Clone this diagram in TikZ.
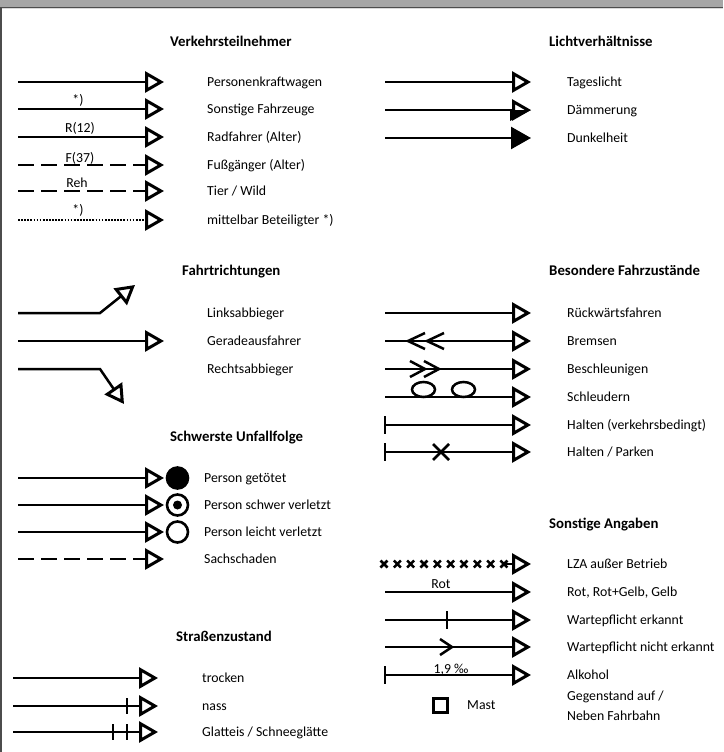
\documentclass[tikz,border=0pt]{standalone}
\usepackage{fontspec}
\setmainfont{Carlito}
\usetikzlibrary{arrows.meta}

\definecolor{kopfband}{HTML}{A6A6A6}
\definecolor{kopflinie}{HTML}{4D4D4D}

\begin{document}
\begin{tikzpicture}[x=1pt, y=-1pt,
  every node/.style={inner sep=0pt, text height=9pt, text depth=0pt,
    font=\fontsize{13.8}{16}\selectfont},
  lbl/.style={anchor=west},
  kopf/.style={anchor=west, font=\fontsize{14.8}{17}\selectfont\bfseries},
  strich/.style={line width=2.5pt},
  balken/.style={line width=2.8pt},
  pfeil/.style={strich, -{Triangle[open, length=19pt, width=21pt, line width=3pt]}},
  pfeilvoll/.style={strich, -{Triangle[length=20pt, width=22pt]}},
  gestrichelt/.style={dash pattern=on 16pt off 7pt},
  gepunktet/.style={line width=1.7pt, dash pattern=on 1.7pt off 1.4pt},
  kreis/.style={circle, draw, line width=2.6pt, minimum size=21pt}]

\useasboundingbox (0,0) rectangle (723,752);
\fill[kopfband] (0,0) rectangle (723,7);
\fill[kopflinie] (0,7) rectangle (723,8.5);
\fill[black!15] (0,8.5) rectangle (723,9.5);
\fill[black!70] (0,8) rectangle (2,752);

\coordinate (la) at (18,0);
\coordinate (lb) at (164,0);
\coordinate (za) at (13,0);
\coordinate (zb) at (158,0);
\coordinate (ra) at (385,0);
\coordinate (rb) at (531,0);

% Verkehrsteilnehmer
\node[kopf] (vt) at (170,42) {Verkehrsteilnehmer};
\foreach \n/\y/\t in {pkw/82/Personenkraftwagen, sfz/109/{Sonstige Fahrzeuge},
    rad/137/{Radfahrer (Alter)}, fg/165/{Fußgänger (Alter)},
    tier/191/{Tier / Wild}, mb/220/{mittelbar Beteiligter *)}}
  \node[lbl] (\n) at (207,\y) {\t};
\draw[pfeil] (pkw.west -| la) -- (pkw.west -| lb);
\draw[pfeil] (sfz.west -| la) -- (sfz.west -| lb);
\draw[pfeil] (rad.west -| la) -- (rad.west -| lb);
\draw[pfeil, gestrichelt] (fg.west -| la) -- (fg.west -| lb);
\draw[pfeil, gestrichelt] (tier.west -| la) -- (tier.west -| lb);
\draw[pfeil, gepunktet] (mb.west -| la) -- (mb.west -| lb);
\node (sfz-t) at (78,100) {*)};
\node (rad-t) at (80,128) {R(12)};
\node (fg-t) at (80,158) {F(37)};
\node (tier-t) at (77,183) {Reh};
\node (mb-t) at (78,210) {*)};

% Lichtverhaeltnisse
\node[kopf] (lv) at (549,42) {Lichtverhältnisse};
\foreach \n/\y/\t in {tag/82/Tageslicht, daem/110/Dämmerung, dunkel/138/Dunkelheit}
  \node[lbl] (\n) at (567,\y) {\t};
\draw[pfeil] (tag.west -| ra) -- (tag.west -| rb);
\draw[pfeil] (daem.west -| ra) -- (daem.west -| rb);
\coordinate (dt) at (daem.west -| rb);
\fill ([xshift=-21pt]dt) -- (dt) -- ([xshift=-21pt, yshift=-11pt]dt) -- cycle;
\draw[pfeilvoll] (dunkel.west -| ra) -- (dunkel.west -| rb);

% Fahrtrichtungen
\node[kopf] (fr) at (182,271) {Fahrtrichtungen};
\foreach \n/\y/\t in {links/313/Linksabbieger, gerade/341/Geradeausfahrer,
    rechts/369/Rechtsabbieger}
  \node[lbl] (\n) at (207,\y) {\t};
\draw[pfeil] (links.west -| la) -- ++(82,0) -- ++(35,-28);
\draw[pfeil] (gerade.west -| la) -- (gerade.west -| lb);
\draw[pfeil] (rechts.west -| la) -- ++(82,0) -- ++(24,35);

% Besondere Fahrzustaende
\node[kopf] (bf) at (549,271) {Besondere Fahrzustände};
\foreach \n/\y/\t in {rueck/313/Rückwärtsfahren, brems/341/Bremsen,
    beschl/369/Beschleunigen, schleu/397/Schleudern,
    halt/425/{Halten (verkehrsbedingt)}, park/452/{Halten / Parken}}
  \node[lbl] (\n) at (567,\y) {\t};
\draw[pfeil] (rueck.west -| ra) -- (rueck.west -| rb);
\draw[pfeil] (brems.west -| ra) -- (brems.west -| rb);
\foreach \x in {408,427}
  \draw[strich] (\x+17,333) -- (\x,341) -- (\x+17,349);
\draw[pfeil] (beschl.west -| ra) -- (beschl.west -| rb);
\foreach \x in {425,439}
  \draw[strich] (\x-15,361) -- (\x,369) -- (\x-15,377);
\draw[pfeil] (schleu.west -| ra) -- (schleu.west -| rb);
\foreach \x in {423.5,463.5}
  \draw[strich] (\x,389.5) ellipse (11.5pt and 7.5pt);
\draw[pfeil] (halt.west -| ra) -- (halt.west -| rb);
\draw[balken] (halt.west -| ra) ++(0,-9) -- ++(0,18);
\draw[pfeil] (park.west -| ra) -- (park.west -| rb);
\draw[balken] (park.west -| ra) ++(0,-9) -- ++(0,18);
\draw[strich] (433,444) -- (449,460) (433,460) -- (449,444);

% Schwerste Unfallfolge
\node[kopf] (uf) at (170,437) {Schwerste Unfallfolge};
\foreach \n/\y/\t in {tot/478/{Person getötet}, schwer/505/{Person schwer verletzt},
    leicht/532/{Person leicht verletzt}, sach/559/Sachschaden}
  \node[lbl] (\n) at (204,\y) {\t};
\draw[pfeil] (tot.west -| la) -- (tot.west -| lb);
\draw[pfeil] (schwer.west -| la) -- (schwer.west -| lb);
\draw[pfeil] (leicht.west -| la) -- (leicht.west -| lb);
\draw[pfeil, gestrichelt] (sach.west -| la) -- (sach.west -| lb);
\node[kreis, fill] (k-tot) at (177.5,478) {};
\node[kreis] (k-schwer) at (177.5,505) {};
\fill (k-schwer) circle (4.5pt);
\node[kreis] (k-leicht) at (177.5,532) {};

% Sonstige Angaben
\node[kopf] (so) at (549,524) {Sonstige Angaben};
\foreach \n/\y/\t in {lza/564/{LZA außer Betrieb}, rot/592/{Rot, Rot+Gelb, Gelb},
    wart/620/{Wartepflicht erkannt}, nwart/647/{Wartepflicht nicht erkannt},
    alk/675/Alkohol}
  \node[lbl] (\n) at (567,\y) {\t};
\foreach \i in {0,...,9}
  \draw[strich] ({384+13.33*\i-3.5},560.5) -- ++(7,7) ++(-7,0) -- ++(7,-7);
\draw[pfeil] ([xshift=-25pt]lza.west -| rb) -- (lza.west -| rb);
\draw[pfeil] (rot.west -| ra) -- (rot.west -| rb);
\node (rot-t) at (441,584) {Rot};
\draw[pfeil] (wart.west -| ra) -- (wart.west -| rb);
\draw[strich] (447,611) -- (447,629);
\draw[pfeil] (nwart.west -| ra) -- (nwart.west -| rb);
\draw[strich] (440,639) -- (452,647) -- (440,655);
\draw[pfeil] (alk.west -| ra) -- (alk.west -| rb);
\draw[balken] (alk.west -| ra) ++(0,-9) -- ++(0,18);
\node (alk-t) at (451,669) {1,9 ‰};
\node[draw, line width=3pt, minimum size=14pt] (mast) at (440,705) {};
\node[lbl] (mast-t) at (467,705) {Mast};
\node[anchor=north west, align=left, text height=, text depth=,
  font=\fontsize{13.8}{20}\selectfont] (geg) at (567,691)
  {Gegenstand auf /\\Neben Fahrbahn};

% Strassenzustand
\node[kopf] (sz) at (176,637) {Straßenzustand};
\foreach \n/\y/\t in {trocken/678/trocken, nass/706/nass,
    glatt/732/{Glatteis / Schneeglätte}}
  \node[lbl] (\n) at (202,\y) {\t};
\draw[pfeil] (trocken.west -| za) -- (trocken.west -| zb);
\draw[pfeil] (nass.west -| za) -- (nass.west -| zb);
\draw[strich] (127,698) -- (127,714);
\draw[pfeil] (glatt.west -| za) -- (glatt.west -| zb);
\draw[strich] (113,724) -- (113,740) (127,724) -- (127,740);

\end{tikzpicture}
\end{document}
